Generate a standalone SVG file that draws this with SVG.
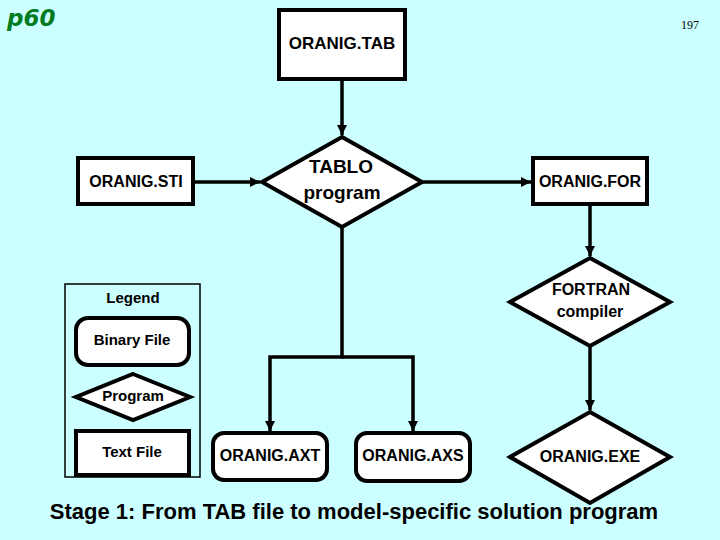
<svg xmlns="http://www.w3.org/2000/svg" width="720" height="540" viewBox="0 0 720 540">
<style>
.node{fill:#ffffff;stroke:#000000;stroke-width:4;stroke-linejoin:miter}
.t{font-family:"Liberation Sans",Arial,sans-serif;font-weight:bold;fill:#000000;text-anchor:middle}
.c{fill:none;stroke:#000000;stroke-width:3.5}
</style>
<defs>
<marker id="arr" viewBox="0 0 10 10" refX="10" refY="5" markerWidth="3" markerHeight="3" orient="auto" markerUnits="strokeWidth">
<path d="M0,0 L10,5 L0,10 z" fill="#000000"/>
</marker>
</defs>
<rect x="0" y="0" width="720" height="540" fill="#ccffff"/>
<text x="7" y="26" font-family="'DejaVu Sans',sans-serif" font-style="italic" font-weight="bold" font-size="23" fill="#007a1e">p60</text>
<text x="690" y="29" font-family="'Liberation Serif',serif" font-size="12" fill="#000000" text-anchor="middle">197</text>

<g id="connectors">
<path class="c" d="M342,80 V135" marker-end="url(#arr)"/>
<path class="c" d="M193,182 H260" marker-end="url(#arr)"/>
<path class="c" d="M422,182 H531" marker-end="url(#arr)"/>
<path class="c" d="M590,204 V256" marker-end="url(#arr)"/>
<path class="c" d="M590,346 V410" marker-end="url(#arr)"/>
<path class="c" d="M342,227 V357 H270 V431" marker-end="url(#arr)"/>
<path class="c" d="M342,357 H413 V431" marker-end="url(#arr)"/>
</g>

<g id="tab">
<rect class="node" x="279" y="10" width="126" height="69"/>
<text class="t" x="342" y="49" font-size="17">ORANIG.TAB</text>
</g>
<g id="tablo">
<polygon class="node" points="342,137 422,182 342,227 262,182"/>
<text class="t" x="341" y="173" font-size="19">TABLO</text>
<text class="t" x="342" y="199" font-size="19">program</text>
</g>
<g id="sti">
<rect class="node" x="78" y="158" width="115" height="46"/>
<text class="t" x="136" y="187" font-size="16">ORANIG.STI</text>
</g>
<g id="for">
<rect class="node" x="533" y="158" width="114" height="46"/>
<text class="t" x="590" y="187" font-size="16">ORANIG.FOR</text>
</g>
<g id="fortran">
<polygon class="node" points="590,258 670,302 590,346 510,302"/>
<text class="t" x="591" y="295" font-size="16">FORTRAN</text>
<text class="t" x="590" y="317" font-size="16">compiler</text>
</g>
<g id="exe">
<polygon class="node" points="590,412 670,457 590,503 510,457"/>
<text class="t" x="590" y="462" font-size="16">ORANIG.EXE</text>
</g>
<g id="axt">
<rect class="node" x="213" y="433" width="114" height="47" rx="11" ry="11"/>
<text class="t" x="270" y="461" font-size="16">ORANIG.AXT</text>
</g>
<g id="axs">
<rect class="node" x="356" y="433" width="114" height="48" rx="11" ry="11"/>
<text class="t" x="413" y="461" font-size="16">ORANIG.AXS</text>
</g>

<g id="legend">
<rect x="65" y="284" width="135" height="193" fill="none" stroke="#000000" stroke-width="1.5"/>
<text class="t" x="133" y="303" font-size="15">Legend</text>
<rect class="node" x="76" y="318" width="113" height="47" rx="12" ry="12"/>
<text class="t" x="132" y="345" font-size="15">Binary File</text>
<polygon class="node" points="133,374 190,397 133,420 76,397"/>
<text class="t" x="133" y="401" font-size="15">Program</text>
<rect class="node" x="76" y="431" width="113" height="44"/>
<text class="t" x="132" y="457" font-size="15">Text File</text>
</g>

<text class="t" x="354" y="519" font-size="22">Stage 1: From TAB file to model-specific solution program</text>
</svg>
